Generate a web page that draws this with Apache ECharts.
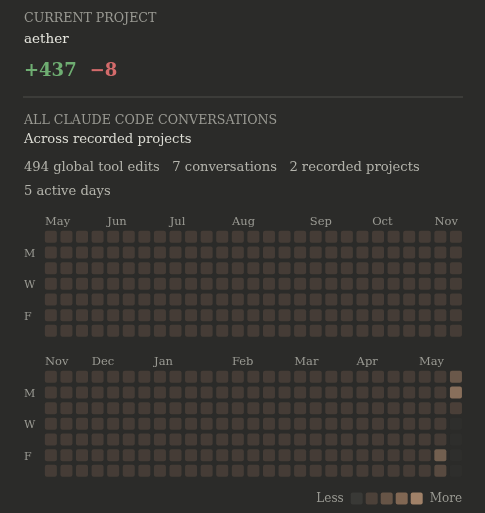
<!DOCTYPE html>
<html><head><meta charset="utf-8">
<script src="https://cdn.jsdelivr.net/npm/echarts@6/dist/echarts.min.js"></script>
<style>html,body{margin:0;padding:0;background:#2b2b29;}#c{width:485px;height:513px;}</style>
</head><body><div id="c"></div>
<script>
// ---- data ----
const projectName = 'aether';
const linesAdded = 437;
const linesRemoved = 8;
const globalToolEdits = 494;
const conversationCount = 7;
const recordedProjects = 2;
const activeDayCount = 5;

const topWeekStarts = ['2025-05-04','2025-05-11','2025-05-18','2025-05-25','2025-06-01','2025-06-08','2025-06-15','2025-06-22','2025-06-29','2025-07-06','2025-07-13','2025-07-20','2025-07-27','2025-08-03','2025-08-10','2025-08-17','2025-08-24','2025-08-31','2025-09-07','2025-09-14','2025-09-21','2025-09-28','2025-10-05','2025-10-12','2025-10-19','2025-10-26','2025-11-02'];
const topMonthLabels = ['May','','','','Jun','','','','Jul','','','','Aug','','','','','Sep','','','','Oct','','','','Nov',''];
const bottomWeekStarts = ['2025-11-09','2025-11-16','2025-11-23','2025-11-30','2025-12-07','2025-12-14','2025-12-21','2025-12-28','2026-01-04','2026-01-11','2026-01-18','2026-01-25','2026-02-01','2026-02-08','2026-02-15','2026-02-22','2026-03-01','2026-03-08','2026-03-15','2026-03-22','2026-03-29','2026-04-05','2026-04-12','2026-04-19','2026-04-26','2026-05-03','2026-05-10'];
const bottomMonthLabels = ['Nov','','','Dec','','','','Jan','','','','','Feb','','','','Mar','','','','Apr','','','','May','',''];
const dayNames = ['Sun','Mon','Tue','Wed','Thu','Fri','Sat'];
const dayLabels = ['', 'M', '', 'W', '', 'F', ''];
const activeDates = ['2026-05-08','2026-05-09','2026-05-10','2026-05-11','2026-05-12'];
const activeEdits = [130, 55, 105, 190, 14];
const today = '2026-05-12';
const legendColors = ['#393936','#4c4139','#665446','#816753','#a08168'];

// ---- styles ----
const FONT = '"DejaVu Serif", serif';
const BG = '#2b2b29';
const EMPTY = legendColors[0];
const FUTURE = '#30302d';
const MUTED = '#9a9a93';
const BODY = '#b4b4ac';
const CELL = 'path://M2,0H10A2,2,0,0,1,12,2V10A2,2,0,0,1,10,12H2A2,2,0,0,1,0,10V2A2,2,0,0,1,2,0Z';

function addDays(iso, n) {
  const d = new Date(iso + 'T00:00:00Z');
  d.setUTCDate(d.getUTCDate() + n);
  return d.toISOString().slice(0, 10);
}
function buildCells(weekStarts) {
  const cells = [], future = [];
  weekStarts.forEach((ws, i) => {
    for (let d = 0; d < 7; d++) {
      const date = addDays(ws, d);
      if (date > today) { future.push([i, d, 0]); continue; }
      const k = activeDates.indexOf(date);
      cells.push([i, d, k >= 0 ? activeEdits[k] : 0]);
    }
  });
  return { cells, future };
}
const topGridCells = buildCells(topWeekStarts);
const bottomGridCells = buildCells(bottomWeekStarts);
const maxEdits = Math.max(...activeEdits);

const cellPitchX = 15.58, cellPitchY = 15.67, nWeeks = 27;
const gridLeft = 43.06;
function makeGrid(t) { return { left: gridLeft, top: t, width: cellPitchX * nWeeks, height: cellPitchY * 7, containLabel: false }; }
function makeX(idx, weeks, labels) {
  return {
    type: 'category', gridIndex: idx, position: 'top', data: weeks,
    axisLine: { show: false }, axisTick: { show: false }, splitLine: { show: false },
    axisLabel: { interval: 0, align: 'left', margin: 1, padding: [0, 0, 0, -5.85],
      color: MUTED, fontSize: 11.5, fontFamily: FONT,
      formatter: (v, i) => labels[i] }
  };
}
function makeY(idx) {
  return {
    type: 'category', gridIndex: idx, data: dayNames, inverse: true,
    axisLine: { show: false }, axisTick: { show: false }, splitLine: { show: false },
    axisLabel: { interval: 0, align: 'left', margin: 19, color: MUTED, fontSize: 11, fontFamily: FONT,
      formatter: (v, i) => dayLabels[i] ? '{d|' + dayLabels[i] + '}' : '',
      rich: { d: { color: MUTED, fontSize: 11, fontFamily: FONT, padding: [3, 0, 0, 0] } } }
  };
}
const cellSeries = (xi, data, color) => ({
  type: 'scatter', xAxisIndex: xi, yAxisIndex: xi, data,
  symbol: CELL, symbolSize: 12, silent: true, animation: false,
  itemStyle: color ? { color } : {}
});

const chart = echarts.init(document.getElementById('c'));
chart.setOption({
  backgroundColor: BG,
  animation: false,
  grid: [makeGrid(229.0), makeGrid(369.0)],
  xAxis: [makeX(0, topWeekStarts, topMonthLabels), makeX(1, bottomWeekStarts, bottomMonthLabels)],
  yAxis: [makeY(0), makeY(1)],
  visualMap: [
    { type: 'continuous', show: false, seriesIndex: [0, 1], dimension: 2,
      min: 1, max: maxEdits,
      inRange: { color: [legendColors[1], legendColors[4]] },
      outOfRange: { color: [EMPTY] } },
    { type: 'piecewise', seriesIndex: [], orient: 'horizontal', right: 23, top: 492.5, padding: 0,
      itemWidth: 12, itemHeight: 12, itemGap: 3, itemSymbol: CELL, selectedMode: false,
      text: ['\u2004More', 'Less\u2004'],
      textStyle: { color: MUTED, fontSize: 12, fontFamily: FONT },
      pieces: legendColors.map((c, i) => ({ value: i, color: c })) }
  ],
  series: [cellSeries(0, topGridCells.cells), cellSeries(1, bottomGridCells.cells), cellSeries(1, bottomGridCells.future, FUTURE)],
  graphic: [
    { type: 'text', x: 24, y: 19, style: { text: 'CURRENT PROJECT', fill: MUTED, fontSize: 12.6, fontFamily: FONT, verticalAlign: 'middle' } },
    { type: 'text', x: 24, y: 39, style: { text: projectName, fill: '#e6e6de', fontSize: 13.5, fontFamily: FONT, verticalAlign: 'middle' } },
    { type: 'text', x: 24, y: 71, style: { text: '{g|+' + linesAdded + '}{r|\u2212' + linesRemoved + '}', fontFamily: FONT, verticalAlign: 'middle',
        rich: { g: { fill: '#6fae72', fontSize: 18, fontWeight: 'bold', fontFamily: FONT },
                r: { fill: '#d46b6b', fontSize: 18, fontWeight: 'bold', fontFamily: FONT, padding: [0, 0, 0, 13] } } } },
    { type: 'line', shape: { x1: 23, y1: 97, x2: 463, y2: 97 }, style: { stroke: '#3c3c39', lineWidth: 2 } },
    { type: 'text', x: 24, y: 120.5, style: { text: 'ALL CLAUDE CODE CONVERSATIONS', fill: MUTED, fontSize: 12.6, fontFamily: FONT, verticalAlign: 'middle' } },
    { type: 'text', x: 24, y: 140, style: { text: 'Across recorded projects', fill: '#dcdcd4', fontSize: 13.2, fontFamily: FONT, verticalAlign: 'middle' } },
    { type: 'text', x: 24, y: 168, style: { text: '{a|' + globalToolEdits + ' global tool edits}{b|' + conversationCount + ' conversations}{b|' + recordedProjects + ' recorded projects}', verticalAlign: 'middle',
        rich: { a: { fill: BODY, fontSize: 13.1, fontFamily: FONT }, b: { fill: BODY, fontSize: 13.1, fontFamily: FONT, padding: [0, 0, 0, 12.5] } } } },
    { type: 'text', x: 24, y: 192, style: { text: activeDayCount + ' active days', fill: BODY, fontSize: 13.1, fontFamily: FONT, verticalAlign: 'middle' } }
  ]
});
</script></body></html>
